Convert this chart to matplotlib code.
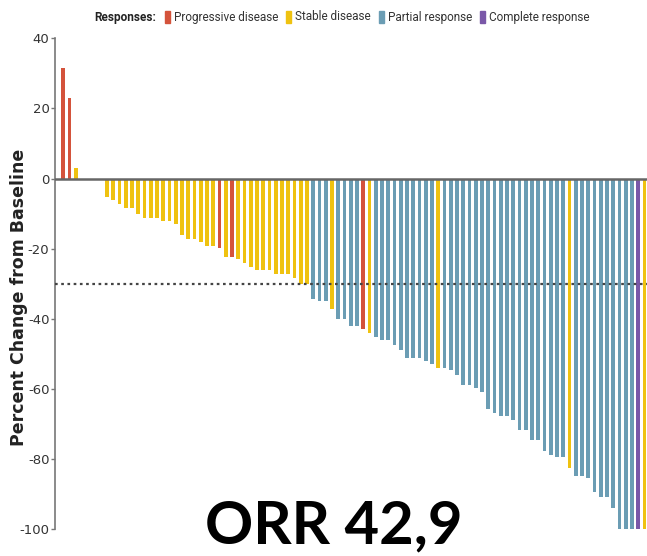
import matplotlib
matplotlib.use("Agg")
import matplotlib.pyplot as plt
from matplotlib.patches import Rectangle

plt.rcParams['axes.unicode_minus'] = False

# best percent change from baseline, one bar per patient (sorted)
change = [31.5, 23, 3.1, 0, 0, 0, 0,
          -5.1, -6, -7.1, -8.3, -8.3, -10.2, -11.2, -11.2, -11.2, -12.1, -12.1, -13, -16.1,
          -17.3, -17.3, -18.1, -19.1, -19.1, -19.9, -22.3, -22.3, -23, -24.1,
          -25.2, -26.1, -26.1, -26.1, -27.1, -27.1, -27.1, -28.3, -30, -30,
          -34.3, -35, -35, -37.3, -39.9, -39.9, -42.1, -42.1, -42.9, -44,
          -45.2, -45.9, -45.9, -47.3, -48.9, -51.1, -51.1, -51.1, -51.9, -53,
          -54, -54.1, -54.7, -55.9, -58.8, -58.8, -59.6, -60.8, -65.6, -66.7,
          -67.8, -67.8, -68.7, -71.6, -71.6, -74.6, -74.6,
          -77.7, -78.7, -79.4, -79.4, -82.4, -84.8, -84.8, -85.5, -89.5, -90.8,
          -90.8, -93.9, -100, -100, -100, -100, -100]

# P = progressive, S = stable, R = partial, C = complete
response = list("PPSSSSS"
                "SSSSSSSSSSSSS"
                "SSSSSPSPSSSSSSSSSSSS"
                "RRRSRRRRPSRRRRRRRRRR"
                "SRRRRRRRRRRRRRRRR"
                "RRRRSRRRRRRRRRRCS")

order = ["P", "S", "R", "C"]
labels = {"P": "Progressive disease", "S": "Stable disease",
          "R": "Partial response", "C": "Complete response"}
colors = {"P": "#d4533b", "S": "#efc210", "R": "#6b9db4", "C": "#7a58a8"}

fig = plt.figure(figsize=(6.47, 5.56), dpi=100)
ax = fig.add_axes([0.085, 0.048, 0.915, 0.883])

x = range(len(change))
ax.bar(x, change, width=0.58, color=[colors[r] for r in response], zorder=2)

ax.axhline(0, color="#666666", lw=1.8, zorder=3)
ax.axhline(-30, color="#444444", lw=1.6, ls=(0, (1.2, 1.6)), zorder=3)

ax.set_xlim(-1.33, 93.4)
ax.set_ylim(-100, 40)
ax.set_yticks([40, 20, 0, -20, -40, -60, -80, -100])
ax.set_xticks([])
for s in ["top", "right", "bottom"]:
    ax.spines[s].set_visible(False)
ax.spines["left"].set_color("#777777")
ax.spines["left"].set_linewidth(1.2)
ax.tick_params(axis="y", length=3, width=1, color="#777777", labelcolor="#333333",
               pad=1, labelsize=9.5)

ax.set_ylabel("Percent Change from Baseline", fontsize=12.5, fontweight="bold",
              family="DejaVu Sans", color="#222222")
ax.yaxis.set_label_coords(-0.045, 0.473)

# legend laid out by hand along the top, items placed one after another
W, H = 647.0, 556.0
ly = 1 - 17 / H
renderer = fig.canvas.get_renderer()
items = []
t = fig.text(0, ly, "Responses:", fontsize=8.5, fontweight="bold", family="Roboto",
             ha="left", va="center", color="#222222")
items.append((None, t))
for k in order:
    t = fig.text(0, ly, labels[k], fontsize=8.5, family="Roboto",
                 ha="left", va="center", color="#333333")
    items.append((k, t))

sq_w, gap_sq, gap_item = 5, 4, 8
widths = [t.get_window_extent(renderer).width for _, t in items]
total = sum(widths) + 4 * (sq_w + gap_sq) + 4 * gap_item
cur = 342 - total / 2
for (k, t), w in zip(items, widths):
    if k is not None:
        fig.patches.append(Rectangle((cur / W, ly - 6 / H), sq_w / W, 12 / H,
                                     transform=fig.transFigure, color=colors[k]))
        cur += sq_w + gap_sq
    t.set_x(cur / W)
    cur += w + gap_item

fig.text(0.516, 0.0228, "ORR 42,9", fontsize=43, fontweight="bold", family="Lato",
         ha="center", va="baseline", color="black")

fig.savefig("out.png", dpi=100)
